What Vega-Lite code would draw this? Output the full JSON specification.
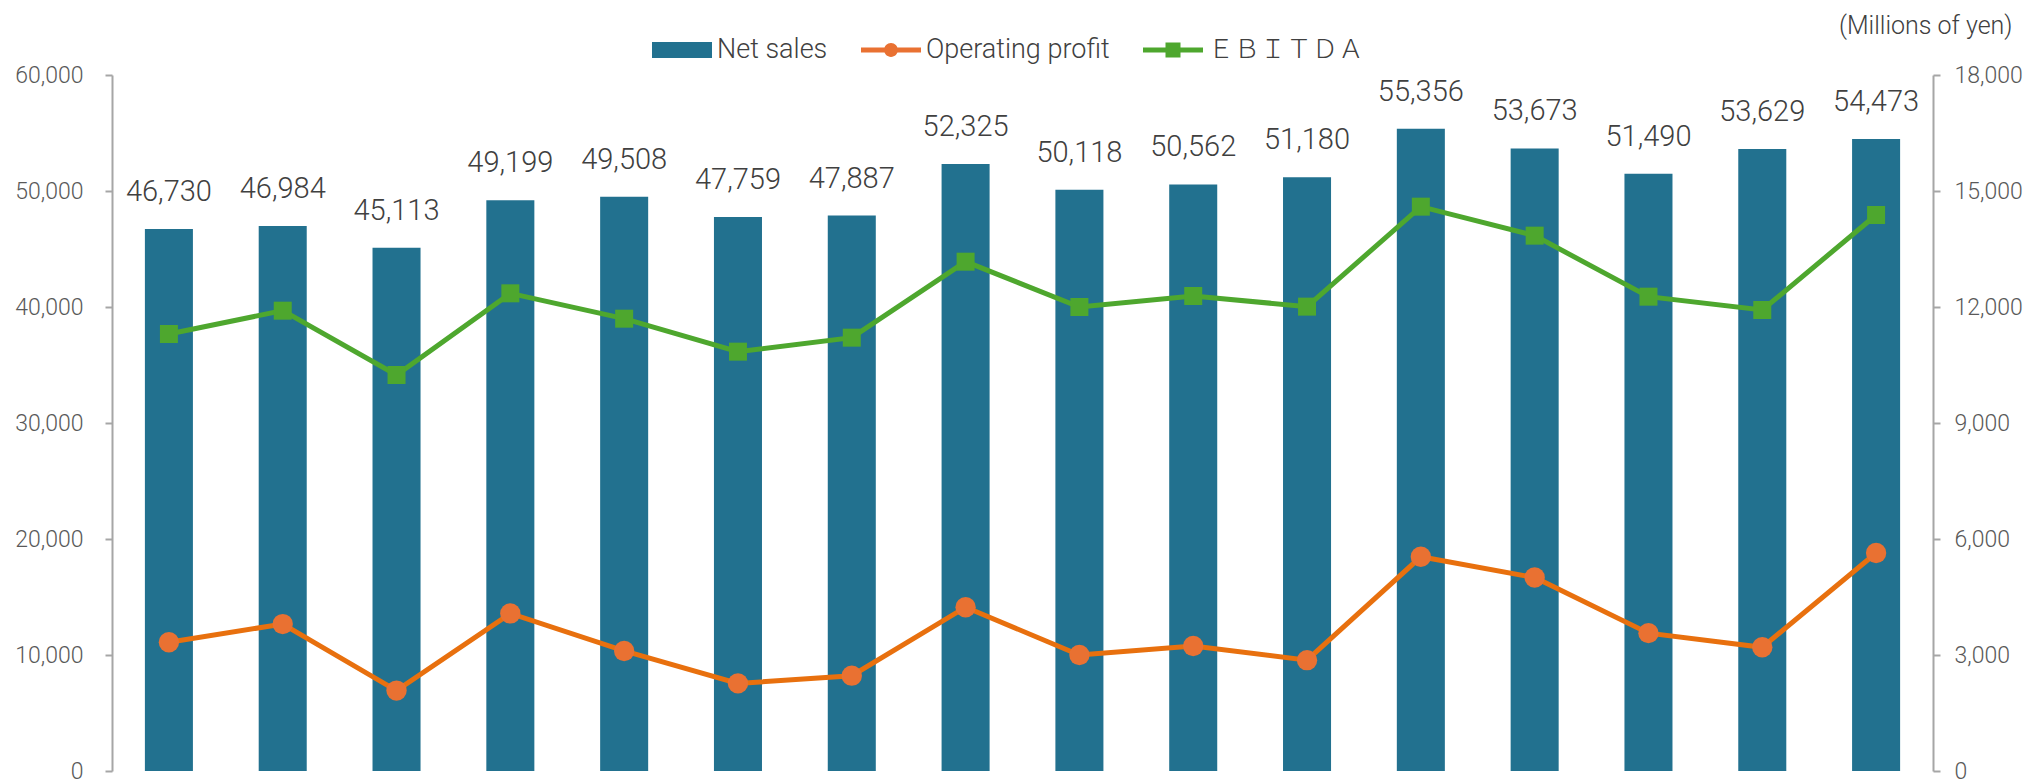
{
  "$schema": "https://vega.github.io/schema/vega-lite/v6.json",
  "width": 1821,
  "height": 696,
  "autosize": "none",
  "padding": {"left": 112, "top": 75, "right": 94, "bottom": 8},
  "background": "white",
  "config": {"view": {"stroke": null}, "font": "Roboto, 'Noto Sans CJK JP', sans-serif"},
  "data": {"values": [
    {"period": 1, "net_sales": 46730, "operating_profit": 3330, "ebitda": 11302},
    {"period": 2, "net_sales": 46984, "operating_profit": 3800, "ebitda": 11905},
    {"period": 3, "net_sales": 45113, "operating_profit": 2080, "ebitda": 10241},
    {"period": 4, "net_sales": 49199, "operating_profit": 4075, "ebitda": 12354},
    {"period": 5, "net_sales": 49508, "operating_profit": 3105, "ebitda": 11698},
    {"period": 6, "net_sales": 47759, "operating_profit": 2265, "ebitda": 10845},
    {"period": 7, "net_sales": 47887, "operating_profit": 2465, "ebitda": 11207},
    {"period": 8, "net_sales": 52325, "operating_profit": 4236, "ebitda": 13172},
    {"period": 9, "net_sales": 50118, "operating_profit": 3000, "ebitda": 12000},
    {"period": 10, "net_sales": 50562, "operating_profit": 3233, "ebitda": 12284},
    {"period": 11, "net_sales": 51180, "operating_profit": 2866, "ebitda": 12009},
    {"period": 12, "net_sales": 55356, "operating_profit": 5540, "ebitda": 14595},
    {"period": 13, "net_sales": 53673, "operating_profit": 5004, "ebitda": 13845},
    {"period": 14, "net_sales": 51490, "operating_profit": 3565, "ebitda": 12267},
    {"period": 15, "net_sales": 53629, "operating_profit": 3200, "ebitda": 11922},
    {"period": 16, "net_sales": 54473, "operating_profit": 5638, "ebitda": 14379}
  ]},
  "encoding": {
    "x": {"field": "period", "type": "ordinal", "axis": null, "scale": {"paddingInner": 0.578, "paddingOuter": 0.289}}
  },
  "layer": [
    {
      "encoding": {
        "y": {"field": "net_sales", "type": "quantitative", "scale": {"domain": [0, 60000], "nice": false},
          "axis": {"title": null, "values": [0, 10000, 20000, 30000, 40000, 50000, 60000], "format": ",.0f", "grid": false,
            "domainColor": "#A6A6A6", "domainWidth": 2, "tickColor": "#A6A6A6", "tickWidth": 2, "tickSize": 7,
            "labelFontSize": 23, "labelFontWeight": 300, "labelColor": "#595959", "labelPadding": 22}}
      },
      "layer": [
        {
          "mark": {"type": "bar"},
          "encoding": {
            "color": {"datum": "Net sales", "type": "nominal",
              "scale": {"domain": ["Net sales", "Operating profit", "ＥＢＩＴＤＡ"], "range": ["#22718F", "#E97132", "#4EA72E"]},
              "legend": {"orient": "none", "legendX": 540, "legendY": -55, "direction": "horizontal", "title": null,
                "symbolSize": 3600, "symbolStrokeWidth": 0, "labelFontSize": 27, "labelFontWeight": 300, "labelColor": "#404040",
                "labelOffset": 5, "columnPadding": 33, "padding": 0, "labelLimit": 500,
                "encode": {"symbols": {"update": {
                  "shape": {"signal": "datum.value === 'Net sales' ? 'M-1,-0.27H1V0.27H-1Z' : (datum.value === 'Operating profit' ? 'M-1,-0.08H1V0.08H-1Z M0.23,0A0.23,0.23 0 1,1 -0.23,0A0.23,0.23 0 1,1 0.23,0Z' : 'M-1,-0.08H1V0.08H-1Z M-0.25,-0.25H0.25V0.25H-0.25Z')"},
                  "fill": {"scale": "color", "field": "value"},
                  "stroke": {"value": "transparent"},
                  "opacity": {"value": 1}
                }},
                "labels": {"update": {"fontSize": {"signal": "datum.value === 'ＥＢＩＴＤＡ' ? 26 : 27"}}}}
              }
            }
          }
        },
        {
          "mark": {"type": "text", "baseline": "alphabetic", "dy": -28, "fontSize": 29, "fontWeight": 300, "color": "#404040"},
          "encoding": {"text": {"field": "net_sales", "type": "quantitative", "format": ",.0f"}}
        }
      ]
    },
    {
      "layer": [
        {
          "mark": {"type": "line", "color": "#E8700E", "strokeWidth": 5},
          "encoding": {
            "y": {"field": "operating_profit", "type": "quantitative", "scale": {"domain": [0, 18000], "nice": false},
              "axis": {"orient": "right", "title": "(Millions of yen)", "values": [0, 3000, 6000, 9000, 12000, 15000, 18000], "format": ",.0f", "grid": false,
                "domainColor": "#A6A6A6", "domainWidth": 2, "tickColor": "#A6A6A6", "tickWidth": 2, "tickSize": 7,
                "labelFontSize": 23, "labelFontWeight": 300, "labelColor": "#595959", "labelPadding": 14,
                "titleAngle": 0, "titleAlign": "right", "titleBaseline": "alphabetic", "titleX": 79, "titleY": -42,
                "titleFontSize": 25, "titleFontWeight": 300, "titleColor": "#404040"}}
          }
        },
        {
          "mark": {"type": "point", "shape": "circle", "filled": true, "size": 415, "color": "#E97132", "opacity": 1},
          "encoding": {"y": {"field": "operating_profit", "type": "quantitative"}}
        },
        {
          "mark": {"type": "line", "color": "#4EA72E", "strokeWidth": 5},
          "encoding": {"y": {"field": "ebitda", "type": "quantitative"}}
        },
        {
          "mark": {"type": "point", "shape": "square", "filled": true, "size": 324, "color": "#4EA72E", "opacity": 1},
          "encoding": {"y": {"field": "ebitda", "type": "quantitative"}}
        }
      ]
    }
  ],
  "resolve": {"scale": {"y": "independent"}}
}
